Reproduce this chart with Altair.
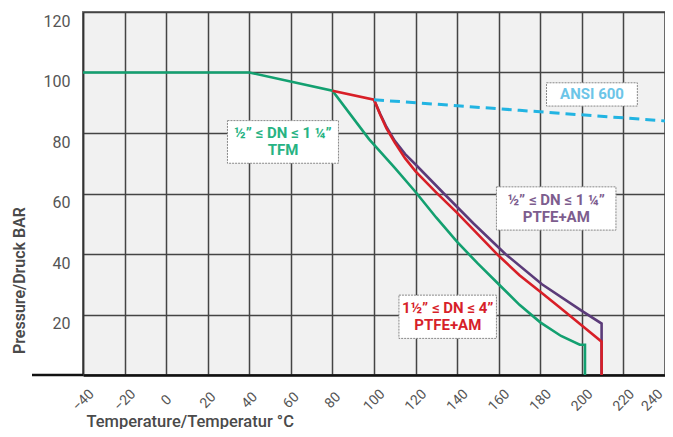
import altair as alt
import pandas as pd

# ---- data ----
green_t = [-40, 40, 80, 97.6, 110, 120, 130, 140, 150, 160, 170, 180, 190, 199, 201.5, 201.5]
green_p = [100, 100, 94, 78, 68.5, 60.5, 52, 44, 36.8, 30, 23.2, 17.4, 12.9, 10, 10, 0]

red_t = [80, 100, 103, 106, 110, 115, 120, 130, 140, 150, 160, 170, 180, 190, 200, 209.5, 209.5]
red_p = [94, 91, 86, 81.5, 76.8, 71.6, 67.3, 60.3, 53.6, 46.5, 39.4, 33, 27.5, 22, 16.4, 11, 0]

purple_t = [100, 103, 106, 110, 115, 120, 133.6, 148, 163.2, 180.8, 200, 209.5, 209.5]
purple_p = [91, 86.3, 82, 77.4, 73, 69.6, 60, 50, 40, 30, 21.2, 17, 0]

ansi_t = [100, 170, 240]
ansi_p = [91, 87.5, 84]

x_ticks = list(range(-40, 241, 20))
y_ticks = list(range(0, 121, 10))

label_names = ["TFM", "PTFE_small", "PTFE_large"]
label_line1 = ["½” ≤ DN ≤ 1 ¼”", "½” ≤ DN ≤ 1 ¼”", "1½” ≤ DN ≤ 4”"]
label_line2 = ["TFM", "PTFE+AM", "PTFE+AM"]
label_t = [56.2, 187.7, 135.5]
label_p1 = [80.0, 58.0, 22.2]
label_p2 = [74.3, 52.3, 16.5]
box_t1 = [29.5, 158.9, 112.0]
box_t2 = [82.9, 216.4, 158.9]
box_p1 = [70.0, 47.9, 12.1]
box_p2 = [84.1, 62.2, 26.4]

ansi_label = ["ANSI 600"]
ansi_label_t = [204.9]
ansi_label_p = [92.8]
ansi_box_t = [183.0, 226.7]
ansi_box_p = [88.9, 96.6]

# ---- styles ----
FONT = "Roboto"
line_colors = {"green": "#13a070", "red": "#d81f27", "purple": "#5b3b79", "ansi": "#22b4e2"}
text_colors = ["#27b383", "#7d5d8e", "#d71f2a"]
ansi_text_color = "#6cc5e8"

xs = alt.Scale(domain=[-40, 240], nice=False, zero=False)
ys = alt.Scale(domain=[0, 120], nice=False)

x_axis = alt.Axis(values=x_ticks, grid=True, gridColor="#444", gridWidth=1.5,
                  domain=True, domainColor="#111", domainWidth=2.5, ticks=False,
                  labelAngle=-45, labelAlign="center", labelBaseline="middle",
                  labelOffset={"condition": {"test": "datum.value == 240", "value": -13}, "value": 0},
                  labelPadding=25, labelFont=FONT, labelFontSize=14, labelColor="#555",
                  title="Temperature/Temperatur °C", titleFont=FONT, titleFontSize=16.5,
                  titleFontWeight=500, titleColor="#4a4a4a", titleAnchor="start",
                  titleAlign="left", titleBaseline="alphabetic", titleX=3, titleY=51)
y_axis = alt.Axis(values=y_ticks, grid=True, gridColor="#444", gridWidth=1.5,
                  domain=True, domainColor="#333", domainWidth=1.5, ticks=False,
                  labelExpr="(datum.value % 20 == 0 && datum.value > 0) ? datum.label : ''",
                  labelOffset=9, labelPadding=13, labelFont=FONT, labelFontSize=16,
                  labelColor="#555",
                  title="Pressure/Druck  BAR", titleFont=FONT, titleFontSize=16,
                  titleFontWeight=600, titleColor="#4a4a4a", titleAlign="center",
                  titleBaseline="alphabetic", titleX=-59, titleY=268)


def series(t, p, name):
    return pd.DataFrame({"T": t, "P": p, "order": range(len(t)), "s": name})


def line_layer(df, color, dash=None, width=2.6):
    kw = dict(color=color, strokeWidth=width, clip=True)
    if dash:
        kw["strokeDash"] = dash
    return alt.Chart(df).mark_line(**kw).encode(
        x=alt.X("T:Q", scale=xs, axis=x_axis),
        y=alt.Y("P:Q", scale=ys, axis=y_axis),
        order="order:Q",
    )


green = line_layer(series(green_t, green_p, "green"), line_colors["green"])
purple = line_layer(series(purple_t, purple_p, "purple"), line_colors["purple"])
red = line_layer(series(red_t, red_p, "red"), line_colors["red"])
ansi = line_layer(series(ansi_t, ansi_p, "ansi"), line_colors["ansi"], dash=[10, 6], width=3)

ext = alt.Chart(pd.DataFrame({"P": [0]})).mark_rule(color="#111", strokeWidth=2.5).encode(
    x=alt.value(-51), x2=alt.value(0), y=alt.Y("P:Q", scale=ys))

labels = pd.DataFrame({"name": label_names, "l1": label_line1, "l2": label_line2,
                       "T": label_t, "P1": label_p1, "P2": label_p2,
                       "t1": box_t1, "t2": box_t2, "p1": box_p1, "p2": box_p2})
ansi_df = pd.DataFrame({"text": ansi_label, "T": ansi_label_t, "P": ansi_label_p,
                        "t1": [ansi_box_t[0]], "t2": [ansi_box_t[1]],
                        "p1": [ansi_box_p[0]], "p2": [ansi_box_p[1]]})

box_style = dict(fill="white", stroke="#888", strokeWidth=1, strokeDash=[2, 1])
text_style = dict(font=FONT, fontSize=15, fontWeight="bold", baseline="middle", align="center")

boxes = alt.Chart(labels).mark_rect(**box_style).encode(
    x=alt.X("t1:Q", scale=xs), x2="t2:Q", y=alt.Y("p1:Q", scale=ys), y2="p2:Q")
ansi_box = alt.Chart(ansi_df).mark_rect(**box_style).encode(
    x=alt.X("t1:Q", scale=xs), x2="t2:Q", y=alt.Y("p1:Q", scale=ys), y2="p2:Q")

cscale = alt.Scale(domain=label_names, range=text_colors)
text1 = alt.Chart(labels).mark_text(**text_style).encode(
    x=alt.X("T:Q", scale=xs), y=alt.Y("P1:Q", scale=ys), text="l1:N",
    color=alt.Color("name:N", scale=cscale, legend=None))
text2 = alt.Chart(labels).mark_text(**text_style).encode(
    x=alt.X("T:Q", scale=xs), y=alt.Y("P2:Q", scale=ys), text="l2:N",
    color=alt.Color("name:N", scale=cscale, legend=None))
ansi_text = alt.Chart(ansi_df).mark_text(color=ansi_text_color, **text_style).encode(
    x=alt.X("T:Q", scale=xs), y=alt.Y("P:Q", scale=ys), text="text:N")

chart = alt.layer(green, purple, red, ansi, ext, boxes, ansi_box, text1, text2, ansi_text).properties(
    width=582, height=363,
    padding={"left": 75, "top": 4, "right": 0, "bottom": 54},
    autosize=alt.AutoSizeParams(type="none"),
).configure_view(stroke="#777", strokeWidth=2, fill="#f1f1f1")

chart.save("out.html", embed_options={"renderer": "svg", "actions": False})
